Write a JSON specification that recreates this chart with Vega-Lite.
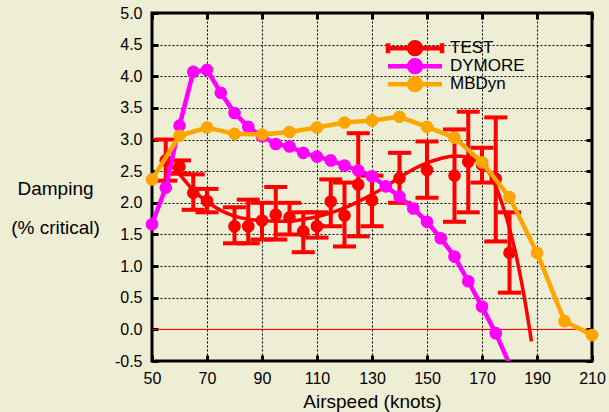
{
  "$schema": "https://vega.github.io/schema/vega-lite/v6.json",
  "width": 440,
  "height": 348,
  "autosize": {"type": "none"},
  "padding": {"left": 152, "top": 13, "right": 17, "bottom": 51},
  "background": "#eeeed5",
  "view": {"stroke": "black", "strokeWidth": 3},
  "config": {
    "font": "Liberation Sans",
    "axis": {
      "domain": false,
      "tickColor": "black",
      "tickWidth": 3,
      "tickSize": -6,
      "labelColor": "black",
      "titleColor": "black",
      "labelFont": "Liberation Sans",
      "titleFont": "Liberation Sans",
      "titleFontWeight": "normal",
      "labelFontSize": 16,
      "titleFontSize": 19,
      "gridColor": "black",
      "gridDash": [2, 2],
      "gridWidth": 1,
      "gridOpacity": 1
    }
  },
  "datasets": {
    "sims": [
      {"series": "DYMORE", "airspeed": 50, "damping": 1.66},
      {"series": "DYMORE", "airspeed": 55, "damping": 2.24},
      {"series": "DYMORE", "airspeed": 60, "damping": 3.22},
      {"series": "DYMORE", "airspeed": 65, "damping": 4.07},
      {"series": "DYMORE", "airspeed": 70, "damping": 4.10},
      {"series": "DYMORE", "airspeed": 75, "damping": 3.74},
      {"series": "DYMORE", "airspeed": 80, "damping": 3.42},
      {"series": "DYMORE", "airspeed": 85, "damping": 3.20},
      {"series": "DYMORE", "airspeed": 90, "damping": 3.05},
      {"series": "DYMORE", "airspeed": 95, "damping": 2.93},
      {"series": "DYMORE", "airspeed": 100, "damping": 2.89},
      {"series": "DYMORE", "airspeed": 105, "damping": 2.79},
      {"series": "DYMORE", "airspeed": 110, "damping": 2.73},
      {"series": "DYMORE", "airspeed": 115, "damping": 2.67},
      {"series": "DYMORE", "airspeed": 120, "damping": 2.59},
      {"series": "DYMORE", "airspeed": 125, "damping": 2.51},
      {"series": "DYMORE", "airspeed": 130, "damping": 2.42},
      {"series": "DYMORE", "airspeed": 135, "damping": 2.26},
      {"series": "DYMORE", "airspeed": 140, "damping": 2.10},
      {"series": "DYMORE", "airspeed": 145, "damping": 1.91},
      {"series": "DYMORE", "airspeed": 150, "damping": 1.70},
      {"series": "DYMORE", "airspeed": 155, "damping": 1.44},
      {"series": "DYMORE", "airspeed": 160, "damping": 1.15},
      {"series": "DYMORE", "airspeed": 165, "damping": 0.76},
      {"series": "DYMORE", "airspeed": 170, "damping": 0.36},
      {"series": "DYMORE", "airspeed": 175, "damping": -0.06},
      {"series": "DYMORE", "airspeed": 180, "damping": -0.55},
      {"series": "MBDyn", "airspeed": 50, "damping": 2.37},
      {"series": "MBDyn", "airspeed": 60, "damping": 3.06},
      {"series": "MBDyn", "airspeed": 70, "damping": 3.19},
      {"series": "MBDyn", "airspeed": 80, "damping": 3.09},
      {"series": "MBDyn", "airspeed": 90, "damping": 3.08},
      {"series": "MBDyn", "airspeed": 100, "damping": 3.12},
      {"series": "MBDyn", "airspeed": 110, "damping": 3.19},
      {"series": "MBDyn", "airspeed": 120, "damping": 3.27},
      {"series": "MBDyn", "airspeed": 130, "damping": 3.30},
      {"series": "MBDyn", "airspeed": 140, "damping": 3.36},
      {"series": "MBDyn", "airspeed": 150, "damping": 3.20},
      {"series": "MBDyn", "airspeed": 160, "damping": 3.03},
      {"series": "MBDyn", "airspeed": 170, "damping": 2.64},
      {"series": "MBDyn", "airspeed": 180, "damping": 2.09},
      {"series": "MBDyn", "airspeed": 190, "damping": 1.21},
      {"series": "MBDyn", "airspeed": 200, "damping": 0.13},
      {"series": "MBDyn", "airspeed": 210, "damping": -0.09}
    ],
    "test": [
      {"airspeed": 55, "damping": 2.67, "lo": 2.35, "hi": 3.00},
      {"airspeed": 60, "damping": 2.57, "lo": 2.46, "hi": 2.67},
      {"airspeed": 65, "damping": 2.16, "lo": 1.89, "hi": 2.45},
      {"airspeed": 70, "damping": 2.03, "lo": 1.85, "hi": 2.22},
      {"airspeed": 80, "damping": 1.63, "lo": 1.36, "hi": 1.93},
      {"airspeed": 85, "damping": 1.63, "lo": 1.36, "hi": 2.05},
      {"airspeed": 90, "damping": 1.72, "lo": 1.42, "hi": 2.00},
      {"airspeed": 95, "damping": 1.81, "lo": 1.42, "hi": 2.25},
      {"airspeed": 100, "damping": 1.77, "lo": 1.50, "hi": 2.00},
      {"airspeed": 105, "damping": 1.55, "lo": 1.22, "hi": 1.85},
      {"airspeed": 110, "damping": 1.63, "lo": 1.45, "hi": 1.85},
      {"airspeed": 115, "damping": 2.02, "lo": 1.63, "hi": 2.37},
      {"airspeed": 120, "damping": 1.80, "lo": 1.31, "hi": 2.32},
      {"airspeed": 125, "damping": 2.29, "lo": 1.47, "hi": 3.10},
      {"airspeed": 130, "damping": 2.04, "lo": 1.63, "hi": 2.43},
      {"airspeed": 140, "damping": 2.39, "lo": 2.00, "hi": 2.79},
      {"airspeed": 150, "damping": 2.52, "lo": 2.08, "hi": 2.97},
      {"airspeed": 160, "damping": 2.43, "lo": 1.70, "hi": 3.16},
      {"airspeed": 165, "damping": 2.65, "lo": 1.85, "hi": 3.44},
      {"airspeed": 170, "damping": 2.60, "lo": 2.32, "hi": 2.87},
      {"airspeed": 175, "damping": 2.38, "lo": 1.39, "hi": 3.35},
      {"airspeed": 180, "damping": 1.21, "lo": 0.58, "hi": 1.85}
    ],
    "fit": [
      {"airspeed": 55, "damping": 2.68},
      {"airspeed": 60, "damping": 2.45},
      {"airspeed": 65, "damping": 2.20},
      {"airspeed": 70, "damping": 2.02},
      {"airspeed": 75, "damping": 1.88},
      {"airspeed": 80, "damping": 1.79},
      {"airspeed": 85, "damping": 1.74},
      {"airspeed": 90, "damping": 1.72},
      {"airspeed": 95, "damping": 1.71},
      {"airspeed": 100, "damping": 1.71},
      {"airspeed": 105, "damping": 1.74},
      {"airspeed": 110, "damping": 1.78},
      {"airspeed": 115, "damping": 1.84},
      {"airspeed": 120, "damping": 1.92},
      {"airspeed": 125, "damping": 2.02},
      {"airspeed": 130, "damping": 2.13},
      {"airspeed": 135, "damping": 2.26},
      {"airspeed": 140, "damping": 2.40},
      {"airspeed": 145, "damping": 2.53},
      {"airspeed": 150, "damping": 2.63},
      {"airspeed": 155, "damping": 2.70},
      {"airspeed": 160, "damping": 2.74},
      {"airspeed": 165, "damping": 2.72},
      {"airspeed": 170, "damping": 2.60},
      {"airspeed": 173, "damping": 2.45},
      {"airspeed": 176, "damping": 2.15},
      {"airspeed": 179, "damping": 1.75},
      {"airspeed": 182, "damping": 1.25},
      {"airspeed": 185, "damping": 0.60},
      {"airspeed": 188, "damping": -0.19}
    ],
    "zero": [{"level": 0}]
  },
  "resolve": {"axis": {"x": "independent", "y": "independent"}},
  "layer": [
    {
      "data": {"name": "test"},
      "mark": {"type": "rule", "color": "#ff0000", "strokeWidth": 4},
      "encoding": {
        "x": {
          "field": "airspeed", "type": "quantitative",
          "scale": {"domain": [50, 210], "nice": false, "zero": false},
          "axis": {
            "values": [50, 70, 90, 110, 130, 150, 170, 190, 210],
            "grid": true,
            "labelFlush": false,
            "labelBaseline": "alphabetic",
            "labelPadding": 28,
            "title": "Airspeed (knots)",
            "titleY": 46,
            "titleBaseline": "alphabetic"
          }
        },
        "y": {
          "field": "lo", "type": "quantitative",
          "scale": {"domain": [-0.5, 5], "nice": false, "zero": false},
          "axis": {
            "values": [-0.5, 0, 0.5, 1, 1.5, 2, 2.5, 3, 3.5, 4, 4.5, 5],
            "grid": true,
            "labelExpr": "datum.value < 0 ? '-' + format(-datum.value, '.1f') : format(datum.value, '.1f')",
            "labelPadding": 16,
            "labelBaseline": "middle",
            "title": ["Damping", "(% critical)"],
            "titleAngle": 0,
            "titleAlign": "center",
            "titleX": -97,
            "titleY": 181,
            "titleBaseline": "alphabetic",
            "titleLineHeight": 39
          }
        },
        "y2": {"field": "hi"}
      }
    },
    {
      "data": {"name": "zero"},
      "mark": {"type": "rule", "color": "#ff0000", "strokeWidth": 1},
      "encoding": {
        "y": {"field": "level", "type": "quantitative", "axis": null}
      }
    },
    {
      "data": {"name": "test"},
      "mark": {"type": "tick", "orient": "horizontal", "color": "#ff0000", "size": 23, "thickness": 4, "opacity": 1},
      "encoding": {
        "x": {"field": "airspeed", "type": "quantitative", "axis": null},
        "y": {"field": "lo", "type": "quantitative", "axis": null}
      }
    },
    {
      "data": {"name": "test"},
      "mark": {"type": "tick", "orient": "horizontal", "color": "#ff0000", "size": 23, "thickness": 4, "opacity": 1},
      "encoding": {
        "x": {"field": "airspeed", "type": "quantitative", "axis": null},
        "y": {"field": "hi", "type": "quantitative", "axis": null}
      }
    },
    {
      "data": {"name": "test"},
      "mark": {"type": "circle", "color": "#ff0000", "size": 160, "opacity": 1},
      "encoding": {
        "x": {"field": "airspeed", "type": "quantitative", "axis": null},
        "y": {"field": "damping", "type": "quantitative", "axis": null}
      }
    },
    {
      "data": {"name": "fit"},
      "mark": {"type": "line", "color": "#ff0000", "strokeWidth": 3.5, "interpolate": "monotone", "clip": true},
      "encoding": {
        "x": {
          "field": "airspeed", "type": "quantitative",
          "axis": {"orient": "top", "values": [50, 70, 90, 110, 130, 150, 170, 190, 210], "labels": false, "grid": false, "title": null}
        },
        "y": {
          "field": "damping", "type": "quantitative",
          "axis": {"orient": "right", "values": [-0.5, 0, 0.5, 1, 1.5, 2, 2.5, 3, 3.5, 4, 4.5, 5], "labels": false, "grid": false, "title": null}
        }
      }
    },
    {
      "data": {"name": "sims"},
      "transform": [{"filter": "datum.series === 'DYMORE'"}],
      "mark": {"type": "line", "strokeWidth": 4.5, "clip": true},
      "encoding": {
        "x": {"field": "airspeed", "type": "quantitative", "axis": null},
        "y": {"field": "damping", "type": "quantitative", "axis": null},
        "color": {
          "field": "series", "type": "nominal",
          "scale": {"domain": ["TEST", "DYMORE", "MBDyn"], "range": ["#ff0000", "#ff00ff", "#ffa500"]},
          "legend": {
            "orient": "none",
            "legendX": 232,
            "legendY": 27,
            "title": null,
            "padding": 0,
            "rowPadding": 0,
            "clipHeight": 16.5,
            "labelFontSize": 17,
            "labelColor": "black",
            "labelFont": "Liberation Sans",
            "labelOffset": 26.5,
            "symbolOffset": 22.5,
            "symbolSize": 132,
            "symbolStrokeWidth": 4.5,
            "encode": {
              "symbols": {
                "update": {
                  "shape": {"signal": "datum.value === 'TEST' ? 'M-4.7,0H4.7M-4.7,-0.87V0.87M4.7,-0.87V0.87M-1.04,0A1.04,1.04,0,1,0,1.04,0A1.04,1.04,0,1,0,-1.04,0Z' : 'M-4.7,0H4.7M-1.04,0A1.04,1.04,0,1,0,1.04,0A1.04,1.04,0,1,0,-1.04,0Z'"},
                  "fill": {"signal": "scale('color', datum.value)"},
                  "stroke": {"signal": "scale('color', datum.value)"},
                  "opacity": {"value": 1},
                  "fillOpacity": {"value": 1},
                  "strokeOpacity": {"value": 1}
                }
              }
            }
          }
        }
      }
    },
    {
      "data": {"name": "sims"},
      "transform": [{"filter": "datum.series === 'DYMORE' && datum.damping >= -0.5"}],
      "mark": {"type": "circle", "size": 160, "opacity": 1},
      "encoding": {
        "x": {"field": "airspeed", "type": "quantitative", "axis": null},
        "y": {"field": "damping", "type": "quantitative", "axis": null},
        "color": {"field": "series", "type": "nominal"}
      }
    },
    {
      "data": {"name": "sims"},
      "transform": [{"filter": "datum.series === 'MBDyn'"}],
      "mark": {"type": "line", "strokeWidth": 4.5},
      "encoding": {
        "x": {"field": "airspeed", "type": "quantitative", "axis": null},
        "y": {"field": "damping", "type": "quantitative", "axis": null},
        "color": {"field": "series", "type": "nominal"}
      }
    },
    {
      "data": {"name": "sims"},
      "transform": [{"filter": "datum.series === 'MBDyn'"}],
      "mark": {"type": "circle", "size": 160, "opacity": 1},
      "encoding": {
        "x": {"field": "airspeed", "type": "quantitative", "axis": null},
        "y": {"field": "damping", "type": "quantitative", "axis": null},
        "color": {"field": "series", "type": "nominal"}
      }
    }
  ]
}
